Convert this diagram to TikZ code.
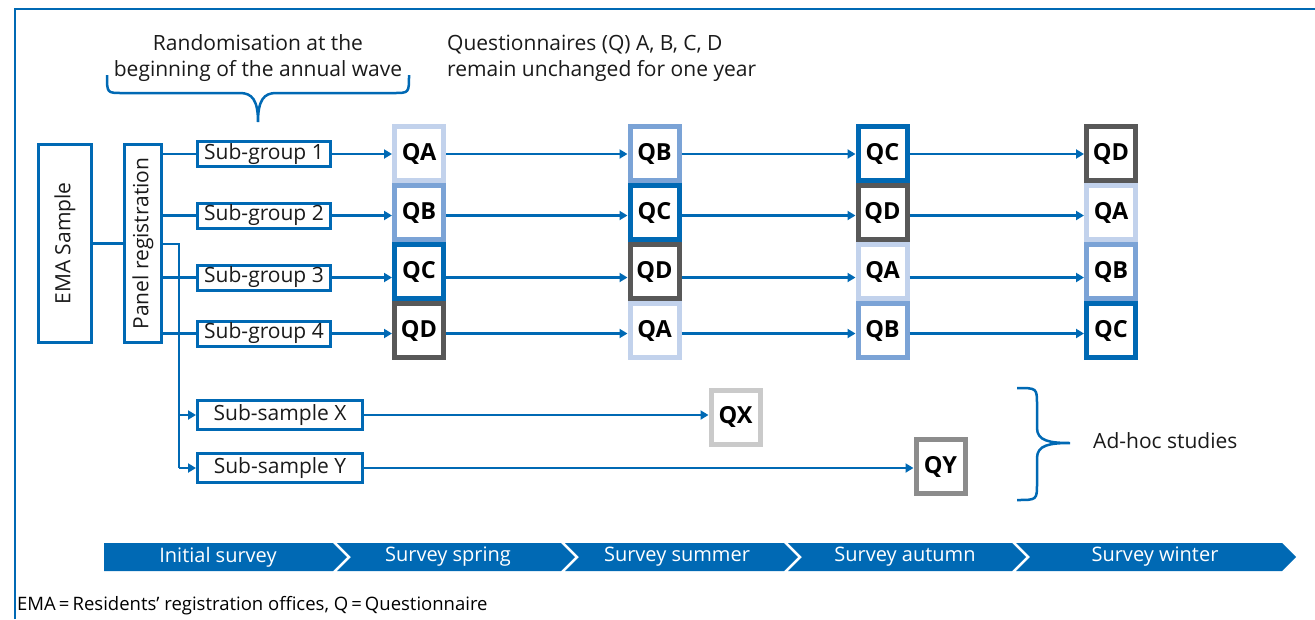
\documentclass[tikz,border=0pt]{standalone}
\usepackage{fontspec}
\setmainfont{Open Sans}
\usetikzlibrary{arrows.meta}
\definecolor{eblue}{HTML}{0069B4}
\definecolor{qa}{HTML}{C2D2EC}
\definecolor{qb}{HTML}{7BA3D6}
\definecolor{qc}{HTML}{0069B4}
\definecolor{qd}{HTML}{585858}
\definecolor{qx}{HTML}{CACACA}
\definecolor{qy}{HTML}{8C8C8C}
\definecolor{txt}{HTML}{1A1A1A}
\tikzset{
  lbl/.style={text=txt, font=\fontsize{21}{26}\selectfont, inner sep=0pt},
  bluebox/.style={draw=eblue, line width=3pt, inner sep=0pt, text=txt, font=\fontsize{21}{24}\selectfont},
  sgbox/.style={bluebox, minimum width=133pt, minimum height=25pt},
  ssbox/.style={bluebox, minimum width=165pt, minimum height=28.5pt},
  qbox/.style={draw=#1, line width=5pt, fill=white, minimum width=49pt, minimum height=54pt, inner sep=0pt, text=black, font=\fontsize{23.5}{26}\selectfont\bfseries},
  ln/.style={draw=eblue, line width=2.5pt},
  arr/.style={ln, -{Triangle[length=8pt,width=9pt]}},
  chev/.style={fill=eblue},
  chevtxt/.style={text=white, font=\fontsize{20}{22}\selectfont, inner sep=0pt},
}
\begin{document}
\begin{tikzpicture}[x=1pt,y=-1pt]
\useasboundingbox (0,0) rectangle (1315,619);
% frame
\draw[eblue, line width=2.5pt] (15,619) -- (15,9) -- (1315,9);

% top texts
\node[lbl, align=center] (rnd) at (258,58) {Randomisation at the\\beginning of the annual wave};
\node[lbl, align=left, anchor=west] (qtxt) at (447,58) {Questionnaires (Q) A, B, C, D\\remain unchanged for one year};
% top brace
\draw[eblue, line width=2.5pt] (107,75) .. controls (107,93) .. (122,93) -- (240,93)
  .. controls (252,93) and (258,100) .. (258,122)
  .. controls (258,100) and (264,93) .. (276,93) -- (394,93)
  .. controls (409,93) .. (409,75);

% left boxes
\node[bluebox, rotate=90, minimum width=198pt, minimum height=53pt] (ema) at (65,243.5) {EMA Sample};
\node[bluebox, rotate=90, minimum width=198pt, minimum height=37pt] (panel) at (143,243.5) {Panel registration};
\draw[ln] (ema.south) -- (panel.north);

% sub-groups
\node[sgbox] (sg1) at (264,154) {Sub-group 1};
\node[sgbox] (sg2) at (264,215.5) {Sub-group 2};
\node[sgbox] (sg3) at (264,277.5) {Sub-group 3};
\node[sgbox] (sg4) at (264,333.5) {Sub-group 4};
\foreach \s in {1,2,3,4} \draw[ln] (panel.south |- sg\s) -- (sg\s.west);

% sub-samples
\node[ssbox] (ssx) at (280,415) {Sub-sample X};
\node[ssbox] (ssy) at (280,468) {Sub-sample Y};
\coordinate (br) at (179,244);
\draw[ln] (panel.south |- br) -- (br) -- (br |- ssy);
\draw[arr] (br |- ssx) -- (ssx.west);
\draw[arr] (br |- ssy) -- (ssy.west);

% questionnaire grid
\foreach \c/\x in {1/419, 2/654.5, 3/882.5, 4/1111}{
  \foreach \r/\y in {1/153.5, 2/212.5, 3/271.5, 4/330.5}{
    \coordinate (p\c\r) at (\x,\y);
  }
}
\node[qbox=qa] (q11) at (p11) {QA};
\node[qbox=qb] (q12) at (p12) {QB};
\node[qbox=qc] (q13) at (p13) {QC};
\node[qbox=qd] (q14) at (p14) {QD};
\node[qbox=qb] (q21) at (p21) {QB};
\node[qbox=qc] (q22) at (p22) {QC};
\node[qbox=qd] (q23) at (p23) {QD};
\node[qbox=qa] (q24) at (p24) {QA};
\node[qbox=qc] (q31) at (p31) {QC};
\node[qbox=qd] (q32) at (p32) {QD};
\node[qbox=qa] (q33) at (p33) {QA};
\node[qbox=qb] (q34) at (p34) {QB};
\node[qbox=qd] (q41) at (p41) {QD};
\node[qbox=qa] (q42) at (p42) {QA};
\node[qbox=qb] (q43) at (p43) {QB};
\node[qbox=qc] (q44) at (p44) {QC};

\foreach \r in {1,2,3,4}{
  \draw[arr] (sg\r.east) -- (q1\r.west |- sg\r);
  \draw[arr] (q1\r.east |- sg\r) -- (q2\r.west |- sg\r);
  \draw[arr] (q2\r.east |- sg\r) -- (q3\r.west |- sg\r);
  \draw[arr] (q3\r.east |- sg\r) -- (q4\r.west |- sg\r);
}

% ad-hoc
\node[qbox=qx] (qx) at (735.5,417) {QX};
\node[qbox=qy] (qy) at (940.5,466.5) {QY};
\draw[arr] (ssx.east) -- (qx.west |- ssx);
\draw[arr] (ssy.east) -- (qy.west |- ssy);
\draw[eblue, line width=2.5pt] (1017,388) .. controls (1037,388) .. (1037,405) -- (1037,428)
  .. controls (1037,441) and (1050,443) .. (1070,443)
  .. controls (1050,443) and (1037,445) .. (1037,458) -- (1037,483)
  .. controls (1037,500) .. (1017,500);
\node[lbl, anchor=west] (adhoc) at (1093,441) {Ad-hoc studies};

% timeline chevrons
\fill[chev] (104,543) -- (333,543) -- (347,557) -- (333,571) -- (104,571) -- cycle;
\fill[chev] (337,543) -- (561,543) -- (575,557) -- (561,571) -- (337,571) -- (351,557) -- cycle;
\fill[chev] (565,543) -- (784,543) -- (798,557) -- (784,571) -- (565,571) -- (579,557) -- cycle;
\fill[chev] (788,543) -- (1012,543) -- (1026,557) -- (1012,571) -- (788,571) -- (802,557) -- cycle;
\fill[chev] (1016,543) -- (1282,543) -- (1296,557) -- (1282,571) -- (1016,571) -- (1030,557) -- cycle;
\node[chevtxt] (t1) at (218,557) {Initial survey};
\node[chevtxt] (t2) at (448,557) {Survey spring};
\node[chevtxt] (t3) at (677,557) {Survey summer};
\node[chevtxt] (t4) at (905,557) {Survey autumn};
\node[chevtxt] (t5) at (1155,557) {Survey winter};

% footnote
\node[anchor=west, inner sep=0pt, text=black, font=\fontsize{18.5}{20}\selectfont] (foot) at (17,606) {EMA\,=\,Residents’ registration offices, Q\,=\,Questionnaire};
\end{tikzpicture}
\end{document}
